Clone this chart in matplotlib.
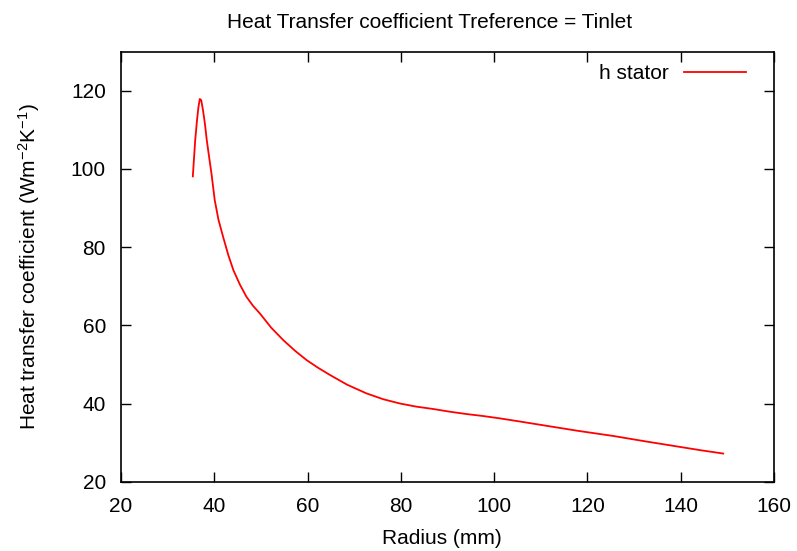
import numpy as np
import matplotlib
matplotlib.use('Agg')
import matplotlib.pyplot as plt
from matplotlib import rcParams
rcParams.update({'font.size': 15, 'font.family': ['Liberation Sans', 'DejaVu Sans'],
                 'mathtext.fontset': 'custom', 'mathtext.rm': 'Liberation Sans',
                 'mathtext.it': 'Liberation Sans:italic'})

# radius (mm) and heat transfer coefficient
radius = [35.4, 35.9, 36.3, 36.6, 36.9, 37.2, 37.6, 38.0, 38.4, 38.9, 39.4, 40.1,
          40.9, 41.9, 43.0, 44.1, 45.5, 46.9, 48.3, 49.8, 52.2, 54.8, 57.3, 59.8,
          62.3, 64.8, 68.5, 72.6, 76.2, 79.8, 83.3, 86.9, 90.5, 94.1, 97.6, 101.2,
          106.0, 111.2, 118.0, 125.5, 132.5, 139.8, 144.5, 149.1]
h_stator = [98.1, 107.2, 112.5, 115.8, 117.9, 117.6, 114.9, 111.5, 107.3, 103.0, 98.8, 92.0,
            87.0, 82.6, 78.0, 74.1, 70.4, 67.3, 65.0, 63.0, 59.4, 56.2, 53.5, 51.1,
            49.1, 47.3, 44.8, 42.6, 41.1, 40.0, 39.2, 38.6, 37.9, 37.3, 36.8, 36.2,
            35.3, 34.3, 33.0, 31.7, 30.3, 28.9, 28.0, 27.2]

fig = plt.figure(figsize=(7.97, 5.51), dpi=100)
ax = fig.add_axes([0.1518, 0.1258, 0.8194, 0.7804])

ax.plot(radius, h_stator, color='#ff0000', lw=1.3, label='h stator')

ax.set_xlim(20, 160)
ax.set_ylim(20, 130)
ax.set_xticks(np.arange(20, 161, 20))
ax.set_yticks(np.arange(20, 121, 20))
ax.tick_params(direction='in', length=7.2, width=1, top=True, right=True, pad=10.8)
for s in ax.spines.values():
    s.set_linewidth(1.2)

fig.text(430 / 797, 1 - 28 / 551, 'Heat Transfer coefficient Treference = Tinlet',
         ha='center', va='baseline')
ax.set_xlabel('Radius (mm)')
ax.xaxis.set_label_coords(0.492, -0.109)
ax.set_ylabel('Heat transfer coefficient (Wm$^{-2}$K$^{-1}$)')
ax.yaxis.set_label_coords(-0.121, 0.5)

ax.legend(loc='upper right', bbox_to_anchor=(0.9705, 0.99), frameon=False,
          markerfirst=False, handlelength=3.0, borderaxespad=0.0,
          handletextpad=0.75, borderpad=0.4)

plt.savefig('out.png', dpi=100)
